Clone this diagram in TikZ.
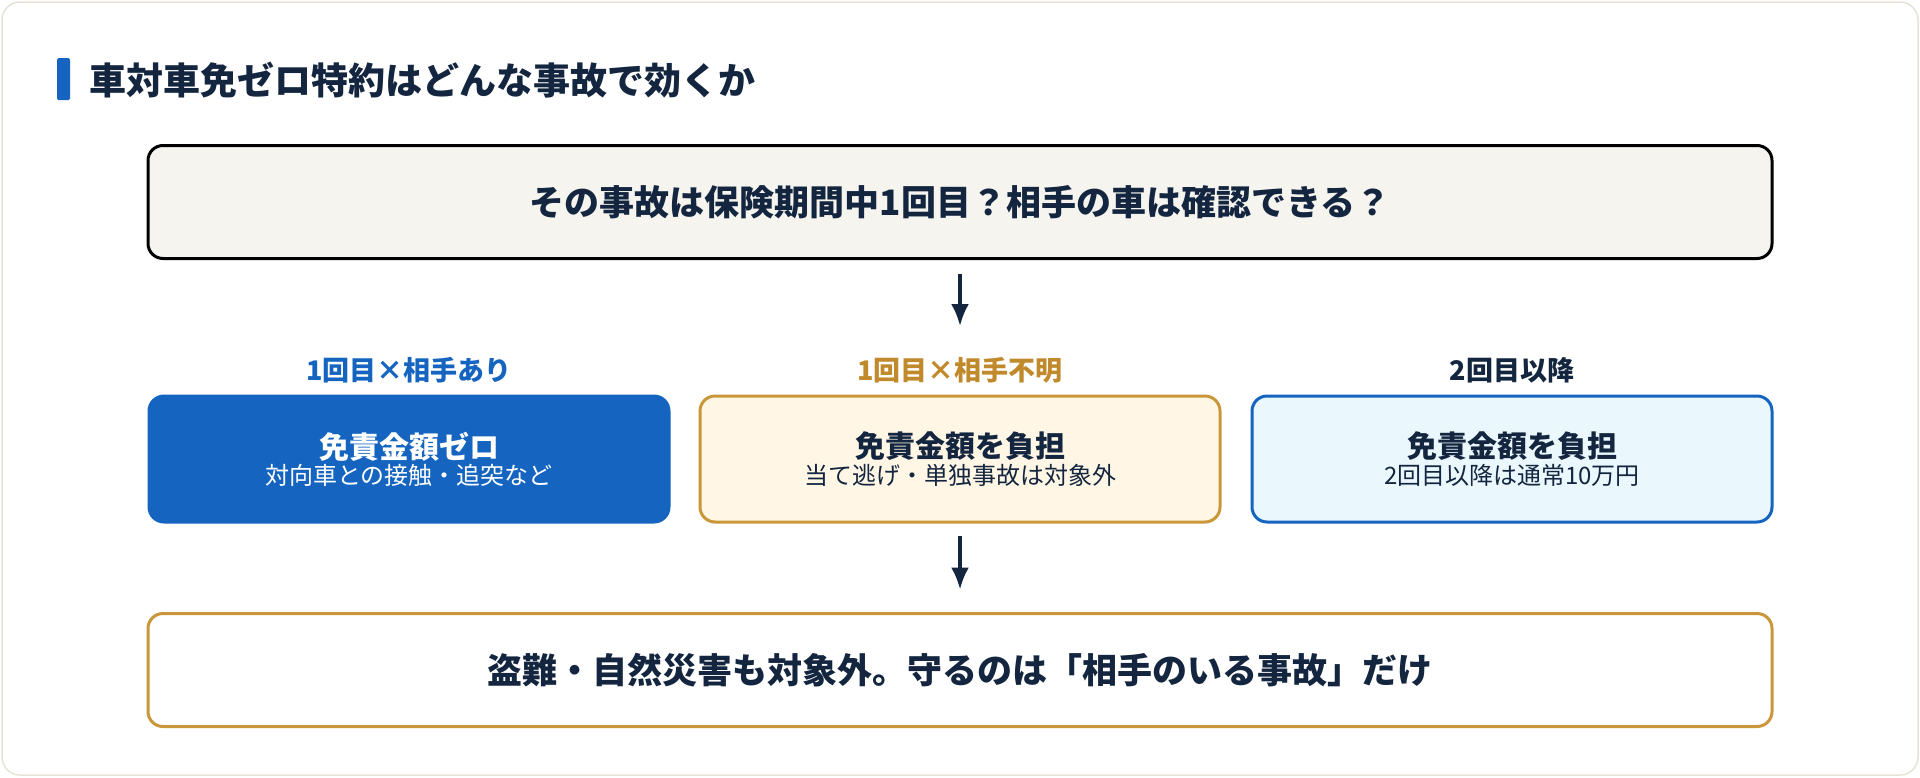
\documentclass[tikz,border=0pt]{standalone}
\usepackage{fontspec}
\setmainfont{Noto Sans CJK JP}
\usetikzlibrary{positioning, arrows.meta}
\definecolor{navy}{HTML}{14263F}
\definecolor{mainblue}{HTML}{1565C0}
\definecolor{gold}{HTML}{C9973A}
\definecolor{goldtext}{HTML}{C08A2C}
\definecolor{paper}{HTML}{F5F4EF}
\definecolor{cream}{HTML}{FFF6E5}
\definecolor{ice}{HTML}{EAF7FD}
\definecolor{rim}{HTML}{E6E3D6}
\tikzset{
  wide/.style={draw, line width=3pt, rounded corners=15pt, minimum width=1624pt, minimum height=113pt, font=\fontsize{35}{42}\selectfont\bfseries, text=navy},
  case/.style={draw, line width=3pt, rounded corners=15pt, minimum width=520pt, minimum height=126pt, align=center, text=navy},
  tag/.style={font=\fontsize{27}{32}\selectfont\bfseries},
  flowarrow/.style={-{Latex[length=22pt,width=18pt]}, line width=3.5pt, draw=navy},
}
\newcommand{\casetext}[2]{{\fontsize{30}{36}\selectfont\bfseries #1}\\[2pt]{\fontsize{24}{29}\selectfont #2}}
\begin{document}
\begin{tikzpicture}[x=1pt,y=-1pt]
  \useasboundingbox (0,0) rectangle (1920,777);
  \draw[rim, fill=white, line width=1.5pt, rounded corners=18pt] (2,2) rectangle (1918,775);
  % title
  \fill[mainblue, rounded corners=1.5pt] (57,58) rectangle (70,100);
  \node[anchor=west, text=navy, font=\fontsize{37}{44}\selectfont\bfseries] (title) at (86,80) {車対車免ゼロ特約はどんな事故で効くか};
  % question
  \node[wide, fill=paper] (question) at (960,202) {その事故は保険期間中1回目？相手の車は確認できる？};
  % cases
  \node[case, fill=mainblue, draw=mainblue, text=white] (zero) at (409,459) {\casetext{免責金額ゼロ}{対向車との接触・追突など}};
  \node[case, fill=cream, draw=gold] (unknown) at (960,459) {\casetext{免責金額を負担}{当て逃げ・単独事故は対象外}};
  \node[case, fill=ice, draw=mainblue] (second) at (1512,459) {\casetext{免責金額を負担}{2回目以降は通常10万円}};
  \node[tag, text=mainblue, above=8pt of zero] (tagzero) {1回目×相手あり};
  \node[tag, text=goldtext, above=8pt of unknown] (tagunknown) {1回目×相手不明};
  \node[tag, text=navy, above=8pt of second] (tagsecond) {2回目以降};
  % note
  \node[wide, fill=white, draw=gold] (note) at (960,670) {盗難・自然災害も対象外。守るのは「相手のいる事故」だけ};
  % arrows
  \draw[flowarrow] ([yshift=-14pt]question.south) -- ([yshift=-66pt]question.south);
  \draw[flowarrow] ([yshift=-12pt]unknown.south) -- ([yshift=-66pt]unknown.south);
\end{tikzpicture}
\end{document}
